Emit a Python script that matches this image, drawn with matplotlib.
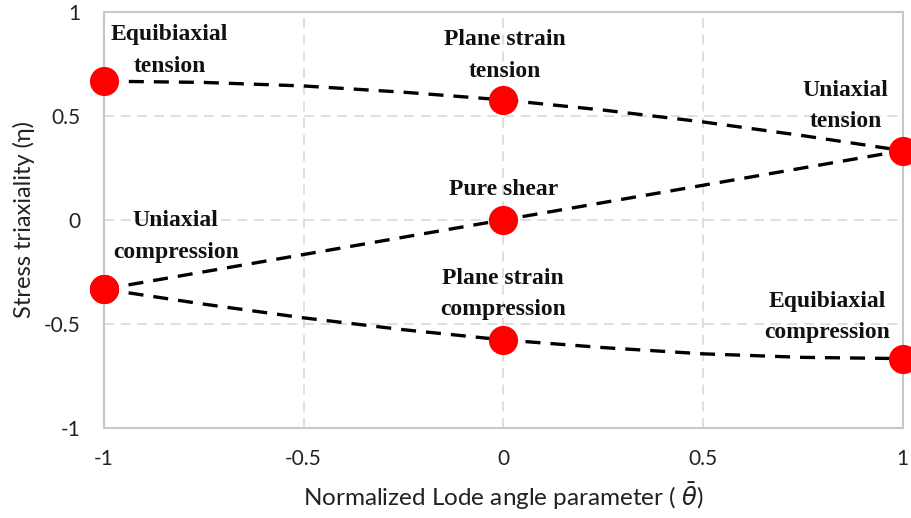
import matplotlib
matplotlib.use("Agg")
import matplotlib.pyplot as plt

# Data
theta_upper = [-1.0, -0.75, -0.5, -0.25, 0.0, 0.25, 0.5, 0.75, 1.0]
eta_upper = [0.667, 0.661, 0.644, 0.614, 0.577, 0.528, 0.471, 0.405, 0.333]
theta_mid = [-1.0, 0.0, 1.0]
eta_mid = [-0.333, 0.0, 0.333]
theta_lower = [-1.0, -0.75, -0.5, -0.25, 0.0, 0.25, 0.5, 0.75, 1.0]
eta_lower = [-0.333, -0.405, -0.471, -0.528, -0.577, -0.614, -0.644, -0.661, -0.667]

pts_theta = [-1.0, 0.0, 1.0, -1.0, 0.0, 1.0, 0.0, -1.0]
pts_eta = [0.667, 0.577, 0.333, -0.333, 0.0, -0.667, -0.577, -0.333]

labels = ["Equibiaxial\ntension", "Plane strain\ntension", "Uniaxial\ntension",
          "Pure shear", "Uniaxial\ncompression", "Plane strain\ncompression",
          "Equibiaxial\ncompression"]
label_x = [-0.835, 0.005, 0.857, 0.0, -0.82, 0.0, 0.81]
label_y = [0.815, 0.79, 0.548, 0.144, -0.08, -0.356, -0.466]

xticks = [-1, -0.5, 0, 0.5, 1]
xtick_labels = ["-1", "-0.5", "0", "0.5", "1"]
yticks = [-1, -0.5, 0, 0.5, 1]
ytick_labels = ["-1", "-0.5", "0", "0.5", "1"]

fig = plt.figure(figsize=(9.11, 5.18), dpi=100)
ax = fig.add_axes([0.114, 0.174, 0.877, 0.803])

for tx, ty in [(theta_upper, eta_upper), (theta_mid, eta_mid), (theta_lower, eta_lower)]:
    ax.plot(tx, ty, color="black", lw=2.4, dashes=(4.5, 3), zorder=3)

ax.plot(pts_theta, pts_eta, "o", color="#ff0000", markersize=21,
        markeredgewidth=0, clip_on=False, zorder=4)

for s, x, y in zip(labels, label_x, label_y):
    ax.text(x, y, s, ha="center", va="center", fontsize=17, fontweight="bold",
            family="Liberation Serif", linespacing=1.65, color="#111111", zorder=5)

ax.set_xlim(-1, 1)
ax.set_ylim(-1, 1)
ax.set_xticks(xticks)
ax.set_xticklabels(xtick_labels)
ax.set_yticks(yticks)
ax.set_yticklabels(ytick_labels)
ax.tick_params(length=0, labelsize=15, colors="#222222")
ax.tick_params(axis="y", pad=17)
ax.tick_params(axis="x", pad=15)
for lab in ax.get_xticklabels() + ax.get_yticklabels():
    lab.set_family("Lato")

ax.grid(True, color="#d9d9d9", linestyle=(0, (6, 4)), lw=1.2, zorder=0)
for sp in ax.spines.values():
    sp.set_color("#c8c8c8")
    sp.set_linewidth(1.5)

ax.set_xlabel(r"Normalized Lode angle parameter ( $\bar{\theta}$)", fontsize=17.5,
              family="Lato", color="#222222", labelpad=8)
ax.set_ylabel("Stress triaxiality (\u03b7)", fontsize=17, family="Lato",
              color="#222222", labelpad=6)

fig.savefig("out.png", dpi=100)
